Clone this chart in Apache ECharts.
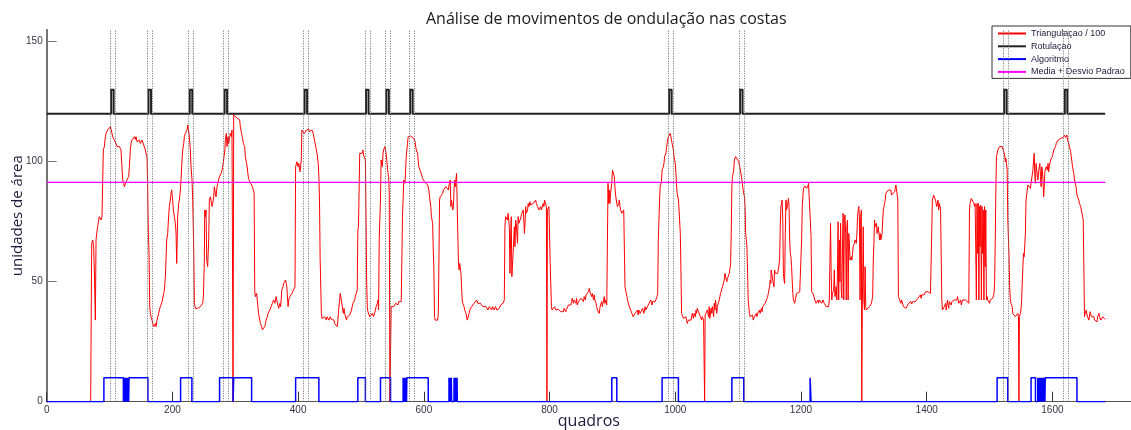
<!DOCTYPE html>
<html>
<head>
<meta charset="utf-8">
<script src="https://cdn.jsdelivr.net/npm/echarts@6.0.0/dist/echarts.min.js"></script>
<style>html,body{margin:0;padding:0;background:#fff}#chart{width:1131px;height:430px}</style>
</head>
<body>
<div id="chart"></div>
<script>
// ---- data ----
const title = 'Análise de movimentos de ondulação nas costas';
const xName = 'quadros';
const yName = 'unidades de área';
const seriesNames = ['Triangulaçao / 100', 'Rotulaçao', 'Algoritmo', 'Media + Desvio Padrao'];
const xTicks = [0, 200, 400, 600, 800, 1000, 1200, 1400, 1600];
const yTicks = [0, 50, 100, 150];
const lastFrame = 1684;

// Triangulação / 100  [quadro, valor]
const triangulacao = [
[0,0],[70,0],[70.5,23],[71.6,66],[73.2,67.4],[74.7,64.6],[75.8,54.9],[77.4,34],[78.5,67.4],[79.5,70.1],[81.1,72.9],[82.7,75.7],[83.8,77.1],[85.4,77.8],[86.4,75.7],[88,77.1],[89.1,92.4],[90.1,104.9],[91.7,106.3],[93.3,110.4],[94.4,111.8],[96,112.5],[97,113.2],[98.6,113.9],[99.7,113.2],[101.3,114.6],[102.3,113.9],[103.9,111.8],[105,110.4],[106.6,111.1],[107.6,109],[109.2,108.3],[110.3,107.6],[111.9,106.3],[113,106.9],[114.5,105.6],[115.6,106.3],[117.2,105.6],[118.2,104.9],[119.8,104.9],[120.9,92.4],[122.5,91],[123.5,89.6],[125.1,88.9],[126.2,91.7],[127.8,92.4],[128.9,91.7],[130.4,93.8],[131.5,97.9],[133.1,104.9],[134.2,107.6],[135.7,109],[136.8,109.7],[138.4,108.3],[139.5,110.4],[141,109.3],[142.1,110.4],[143.7,108.3],[144.8,109],[146.3,108.3],[147.4,109],[149,107.6],[150.1,108.3],[151.7,109],[152.7,108.3],[154.3,107],[155.4,106.3],[157,104.9],[158,103.5],[159.6,102.1],[160.7,88.2],[161.7,70.1],[162.8,61.8],[163.9,39.6],[164.9,36.8],[166,35.4],[167.6,34],[168.6,32.6],[170.2,31.3],[171.3,30.6],[172.9,32.6],[173.9,31.3],[175.5,34],[176.6,34.7],[178.2,36.8],[179.2,38.2],[180.8,39.6],[181.9,40.3],[183.5,41.7],[184.5,41],[186.1,45.1],[187.2,46.5],[188.8,52.1],[189.8,59],[190.9,67.4],[192.5,70.1],[193.6,75.7],[195.1,81.3],[196.7,84],[197.8,86.8],[198.9,88.2],[200.4,84],[201.5,79.9],[203.1,77.1],[204.7,74.3],[205.8,70.1],[206.8,57.6],[208.4,77.1],[210,82.6],[211,84],[212.7,88.2],[213.7,92.4],[215.3,100.7],[216.4,104.9],[218,107.6],[219,110.4],[220.6,111.8],[221.7,112.5],[223.3,113.2],[224.3,115.3],[225.9,112.5],[227,110.4],[228.6,104.9],[229.6,97.9],[231.2,92.4],[232.3,84],[233.9,63.2],[235,41],[236.5,38.9],[237.6,38.2],[239.2,39.6],[240.2,38.9],[241.8,38.2],[242.9,39.6],[244.5,39.6],[245.6,40.3],[247.1,39.9],[248.2,41],[249.3,43.8],[250.8,59],[251.4,79.9],[252.4,77.1],[253.5,79.9],[254.6,59],[256.1,56.3],[257.7,67.4],[258.8,84],[260.4,85.4],[261.4,84],[263,81.3],[264.1,82.6],[265.7,85.4],[266.7,89.6],[268.3,86.8],[269.4,85.4],[271,89.6],[272,91],[273.6,92.4],[274.7,93.8],[276.3,94.5],[277.4,95.1],[279,96.5],[280,97.9],[281.6,97.2],[282.7,97.9],
[283.5,104.9],[284.2,109],[285.8,111.8],[286.9,106.3],[288.4,110.4],[289.5,107.6],[291.1,110.4],[292.2,111.8],[293.8,110.4],[294.8,113.2],[296,113],[296.5,0],[297.5,119.5],[300,118.8],[303,118.1],[305,118.1],[307,117.4],[308,114.6],[310,111.8],[311,110.4],[312,109],[313,107.6],[315,106.3],[316,102.1],[318,99.3],[319,97.9],[320,95.1],[321,93.1],[323,91.7],[324,91],[326,90.3],[327,89.6],[328,88.9],[329,88.2],[330,86.8],[331,45.8],[332,43.8],[334,45.1],[335,42.4],[336,39.6],[337,36.8],[339,34],[340,32.6],[342,31.3],[343,29.9],[344,29.9],[345,30.6],[347,31.3],[348,32.6],[349,34],[351,35.4],[352,36.8],[353,36.8],[355,38.2],[356,38.9],[357,39.6],[359,41],[360,41.7],[361,42.4],[363,41],[364,42.4],[365,43.8],[366,42.4],[368,41.7],[369,38.9],[371,41],[372,39.6],[373,42.4],[374,46.5],[376,47.9],[377,49.3],[379,50],[380,50.7],[381,51.4],[382,47.9],[384,39.6],[385,42.4],[387,43.8],[388,44.5],[389,43.8],[390,45.1],[392,45.1],[393,45.8],[395,47.9],[396,97.9],[398,100],[400,97.9],[401,99.3],[403,95.8],[405,100.7],[406,113.2],[408,113.2],[410,111.8],[411,112.5],[413,113.2],[414,112.9],[416,113.2],[417,113.5],[418,112.5],[420,112.9],[421,112.5],[422,113.2],[424,111.8],[426,109],[427,107.6],[429,104.9],[430,103.5],[432,99.3],[433,93.8],[434,84],[435,59.7],[437,36.8],[438,34.7],[440,35.4],[441,34],[442,35.4],[443,34.7],[445,34],[446,35.4],[448,34.7],[449,34],[450,33.3],[451,35.4],[453,34.3],[454,34],[455,34.7],[457,34],[458,32.6],[459,32.6],[461,32],[462,31.3],[463,33.3],[464,36.8],[466,42.4],[467,45.1],[469,45.8],[470,45.1],[472,36.8],[473,38.9],[474,36.8],[475,36.8],[477,34],[478,35.4],[479,35],[480,34.7],[482,36.1],[483,36.8],[485,38.2],[486,38.9],[487,41],[488,40.3],[490,42.4],[491,43.8],[493,43.8],[494,46.5],[495,71.5],[496,72.9],[498,103.5],[499,102.8],[501,104.2],[502,103.5],[503,104.9],[504,102.8],[506,103.5],[507,100.7],[508,77.1],[509,50.7],[510,39.6],[511,37.5],[512,36.8],[514,35.4],[515,36.1],[517,35.4],[518,36.8],[519,36.8],[520,35.4],[521,36.1],[523,38.2],[524,39.6],[526,41],[527,42.4],[528,38.2],[529,67.4],[531,84],[532,100.7],[534,97.9],[535,103.5],[536,104.9],[538,106.3],[539,104.9],[540,103.5],[541,100.7],[543,95.1],[544,93.8],[545,86.8],[546,0],[547,0],[548,39.6],[549,40.3],[551,38.9],[552,39.6],[554,40.3],[555,41],[556,40.7],[557,41],[559,40.3],[560,41.7],[562,41],[564,41.7],
[565,59],[566,77.1],[567,84],[568,92.4],[570,91],[571,96.5],[572,102.1],[574,107.6],[575,110.4],[577,111.1],[578,111.1],[579,110.7],[580,111.1],[582,110.4],[583,110.4],[584,109.7],[586,108.3],[587,106.3],[588,104.9],[590,103.5],[591,100.7],[592,97.9],[594,97.2],[595,95.8],[596,95.1],[598,93],[599,92.4],[600,92.4],[601,91.7],[603,91.7],[604,91],[606,90.3],[607,89.6],[608,88.2],[609,85.4],[611,81.3],[612,77.1],[614,74.3],[615,63.2],[616,54.9],[617,35.4],[618,34],[619,33.3],[620,34.7],[622,34],[623,36.8],[624,59],[625,84],[626,85.4],[628,86.1],[630,86.8],[631,88.2],[632,88.9],[633,88.9],[635,89.6],[636,89.6],[638,90.3],[639,88.2],[640,90.3],[641,91],[642,92.4],[643,81.3],[644,84],[646,79.9],[647,81.3],[648,88.2],[649,92.4],[650,89.6],[652,95.1],[653,95.8],[654,70.1],[655,59],[656,54.9],[657,57.6],[659,53.5],[660,47.9],[661,42.4],[662,41],[664,39.6],[665,38.2],[667,36.8],[668,36.1],[669,34],[670,34.7],[672,36.8],[673,38.2],[675,38.9],[676,39.6],[677,38.9],[678,40.3],[680,41],[681,40.3],[683,41],[684,42.4],[685,41.7],[686,41],[688,41.7],[689,40.3],[690,41],[692,40.3],[693,41],[694,39.6],[696,40.3],[697,38.9],[699,39.6],[700,40.3],[701,38.9],[702,38.2],[704,39.6],[705,39.6],[706,38.9],[708,38.2],[709,39.6],[710,38.9],[712,38.2],[713,37.5],[714,39.6],[716,38.2],[717,38.9],[718,37.5],[720,38.9],[721,38.2],[722,40.3],[723,41],[725,39.6],[726,41],[728,42.4],[729,72.9],[730,77.1],[731,77.8],[733,75.7],[734,78.5],[736,72.9],[737,53.5],[738,67.4],[739,77.1],[740,52.1],[742,61.8],[744,72.9],[745,64.6],[746,75.7],[747,74.3],[749,66],[750,77.1],[751,74.3],[753,75.7],[754,75],[755,75.7],[756,78.5],[758,79.9],[759,75.7],[760,70.1],[761,74.3],[762,81.3],[763,78.5],[765,79.9],[766,82.6],[767,81.3],[769,83.3],[770,81.9],[771,82.6],[773,81.3],[774,82.6],[775,81.9],[777,82.6],[778,84],[779,82.6],[781,81.3],[782,81.3],[783,79.9],[784,80.6],[786,81.3],[787,79.9],[789,80.6],[790,82.6],[791,81.3],[792,84],[794,84],[795,81.3],[795.8,0],[796.6,79.9],[799,81.3],[801,57.6],[803,39.6],[804,38.2],[806,38.9],[807,38.2],[808,39.6],[810,38.2],[811,38.9],[813,37.5],[814,38.5],[815,37.9],[816,38.9],[818,37.5],[819,36.8],[821,38.2],[822,37.5],[823,38.9],[825,38.2],[826,37.5],[827,38.5],[828,38.9],[830,40.3],[831,39.6],[832,41],[834,40.3],[835,41.7],[836,43.1],[838,41],[839,42.4],
[842,41],[843,43.1],[844,40.3],[846,41.7],[847,42.4],[849,41],[850,43.1],[851,42.4],[852,43.8],[854,41.7],[855,43.8],[857,42.4],[858,44.5],[859,43.8],[860,45.1],[862,45.8],[863,47.2],[865,45.1],[866,45.8],[867,43.8],[868,45.1],[870,42.4],[871,44.5],[872,42.4],[874,41],[875,39.6],[876,38.2],[878,37.5],[879,36.8],[880,38.9],[881,40.3],[883,41.7],[884,39.6],[886,42.4],[887,43.8],[888,41],[889,42.4],[891,40.3],[892,66],[893,91],[894,82.6],[895,88.2],[896,82.6],[897,86.8],[899,91],[900,96.5],[902,95.8],[903,93.8],[904,89.6],[905,86.1],[907,82.6],[908,81.3],[910,82.6],[911,84],[912,81.3],[913,79.9],[915,78.5],[916,79.2],[918,79.9],[919,80.6],[920,47.9],[921,46.5],[923,43.8],[924,42.4],[926,40.3],[927,39.6],[928,41],[929,38.2],[931,36.8],[932,37.5],[933,35.4],[935,36.1],[936,36.8],[937,37.5],[939,36.8],[940,38.2],[941,36.1],[942,38.2],[944,36.8],[945,37.5],[947,36.8],[948,38.9],[949,38.2],[950,36.8],[952,39.6],[953,38.2],[955,38.9],[956,38.2],[957,40.3],[958,41],[960,39.6],[961,42.4],[963,40.3],[964,41.7],[965,41],[966,42.4],[968,41.7],[969,41.7],[971,43.8],[972,45.1],[973,67.4],[975,84],[976,89.6],[978,91.7],[979,96.5],[981,97.9],[982,99.3],[983,102.1],[985,103.5],[986,105.6],[987,107.6],[989,110.4],[990,111.1],[992,111.8],[993,111.8],[994,109],[995,107.6],[997,104.9],[998,102.1],[1000,99.3],[1001,95.1],[1002,90.3],[1003,86.8],[1005,84],[1006,79.9],[1008,70.1],[1009,54.9],[1010,36.8],[1011,36.1],[1013,34.7],[1014,35.4],[1016,34],[1017,35.4],[1018,34],[1019,32.6],[1021,34],[1022,34.7],[1024,33.3],[1025,34],[1026,35.4],[1027,36.8],[1029,34.7],[1030,36.8],[1032,35.4],[1033,38.2],[1034,36.8],[1035,38.9],[1037,37.5],[1038,36.8],[1040,35.4],[1041,36.1],[1042,34],[1043,35.4],[1045,34],[1046,33.3],[1046.7,0],[1047.5,36.1],[1050,36.8],[1051,38.2],[1053,35.4],[1054,39.6],[1055,34.7],[1057,38.9],[1058,36.8],[1059,39.6],[1061,35.4],[1062,41],[1063,38.2],[1064,42.4],[1066,36.8],[1067,39.6],[1069,38.9],[1070,42.4],[1071,43.8],[1072,45.1],[1074,45.8],[1075,47.9],[1077,47.2],[1078,50.7],[1079,53.5],[1080,52.1],[1082,50],[1083,51.4],[1085,50.7],[1086,53.5],[1087,54.2],[1088,57.6],[1089,70.1],[1090,89.6],[1091,93.8],[1093,96.5],[1094,100.7],[1095,101.4],[1096,102.1],[1098,102.8],[1099,102.1],[1101,100],[1102,98.6],[1103,97.9],[1104,95.8],[1106,92.4],[1107,90.3],[1108,88.2],[1110,85.4],[1111,81.3],[1112,70.1],[1114,64.6],[1115,53.5],[1116,42.4],[1118,36.8],[1119,35.4],
[1122,34.7],[1123,36.1],[1124,34],[1126,35.4],[1127,34.7],[1129,36.8],[1130,35.4],[1131,36.8],[1132,36.1],[1134,38.2],[1135,36.8],[1137,38.9],[1138,37.5],[1139,39.6],[1140,38.9],[1142,40.3],[1143,41],[1145,42.4],[1146,41.7],[1147,43.8],[1148,45.1],[1150,47.9],[1151,50.7],[1152,49.3],[1152.5,54.9],[1153.5,53.5],[1155,50.7],[1156,51.4],[1157,47.9],[1158,54.9],[1159,53.5],[1160,53.5],[1161,54.2],[1163,53.5],[1164,53.5],[1166,59],[1167,72.9],[1168,81.3],[1169,82.6],[1170,84],[1171,75.7],[1172,53.5],[1173,50.7],[1174,49.3],[1175,70.1],[1176,84],[1177,79.9],[1179,82.6],[1180,84.7],[1181,81.3],[1182,67.4],[1183,61.8],[1184,60.4],[1185,56.3],[1186,50.7],[1187,45.1],[1188,42.4],[1190,41],[1191,42.4],[1192,41.7],[1193,45.1],[1195,45.4],[1196,44.9],[1198,45.8],[1199,45.1],[1200,45.8],[1201,67.4],[1202,81.3],[1203,85.4],[1204,88.9],[1206,89.9],[1207,89.6],[1208,90.3],[1209,88.9],[1211,89.9],[1212,91],[1213,91.7],[1215,90.3],[1216,68.8],[1217,45.8],[1219,45.1],[1220,44.5],[1221,43.8],[1222,42.4],[1224,41],[1225,41.7],[1227,42.4],[1228,41],[1229,42.4],[1230,41.7],[1232,43.1],[1233,41],[1235,42.4],[1236,41.7],[1237,41],[1238,40.3],[1240,39.6],[1241,40.3],[1243,38.9],[1244,39.6],[1245,42.4],[1246,57.6],[1247,74.3],[1248,53.5],[1249,42.4],[1250,45.1],[1252,46.5],[1253,54.9],[1254,43.8],[1256,47.9],[1257,42.4],[1258,53.5],[1259,75],[1260,42.4],[1261,67.4],[1262,50],[1263,74.3],[1264,46.5],[1265,43.1],[1266,64.6],[1267,78.5],[1268,42.4],[1269,75.7],[1270,77.8],[1271,70.1],[1272,42.4],[1273,72.9],[1274,75.7],[1275,42.4],[1276,70.1],[1277,66],[1278,59],[1280,60.4],[1281,59],[1282,61.8],[1283,64.6],[1285,66],[1286,67.4],[1288,66],[1289,70.1],[1290,77.1],[1291,79.9],[1292,81.3],[1293,75.7],[1294,42.4],[1295,77.1],[1296,79.9],[1296.7,0],[1297.5,38.2],[1299,72.9],[1300,42.4],[1301,38.2],[1302,56.3],[1303,39.6],[1304,38.2],[1305,38.9],[1306,37.5],[1307,38.2],[1309,39.6],[1310,40.3],[1312,41],[1313,41.7],[1314,43.8],[1315,59],[1316,66],[1317,75.7],[1318,72.9],[1320,74.3],[1321,70.1],[1322,71.5],[1323,72.9],[1325,67.4],[1326,70.1],[1327,67.4],[1329,70.1],[1330,75.7],[1331,79.9],[1333,82.6],[1334,84],[1335,86.8],[1336,87.5],[1338,86.1],[1339,88.2],[1341,88.9],[1342,87.5],[1343,88.2],[1344,86.1],[1346,86.8],[1347,85.4],[1349,87.5],[1350,88.2],[1351,90.3],[1352,91],[1353,89.6],[1354,84],[1355,43.8],[1357,42.4],[1358,41.7],[1359,41],[1360,42.4],[1362,41.7],[1363,39.6],[1365,38.9],[1366,40.3],[1367,38.9],[1368,39.6],[1370,39.6],[1371,41],[1372,40.3],[1374,41],[1375,41.7],[1376,40.7],[1378,41.7],[1379,42.4],[1380,41],[1382,41.7],[1383,42.4],[1384,41],[1386,43.1],[1387,42.4],[1388,43.8],[1390,44.5],[1391,43.1],[1392,44.5],[1394,43.8],[1395,45.1],[1396,44.5],[1398,45.8],[1399,45.1],
[1402,45.8],[1403,45.1],[1404,46.5],[1406,45.1],[1407,45.8],[1408,44.5],[1409,84],[1411,86.1],[1412,85.4],[1414,84],[1415,82.6],[1416,81.3],[1418,84],[1419,79.9],[1420,82.6],[1422,80.6],[1423,79.9],[1424,42.4],[1425,38.2],[1427,38.9],[1428,39.6],[1430,41],[1431,38.2],[1432,40.3],[1433,42.4],[1435,38.9],[1436,41.7],[1438,41],[1439,40.3],[1440,41.7],[1441,42.4],[1443,41],[1444,42.4],[1446,43.1],[1447,41.7],[1448,42.4],[1449,43.8],[1451,41],[1452,41.7],[1454,42.4],[1455,40.3],[1456,41],[1457,42.4],[1459,41.7],[1460,41.7],[1462,42.4],[1463,43.1],[1464,41.7],[1465,42.4],[1467,41],[1468,79.9],[1469,82.6],[1471,84.7],[1472,85.4],[1473,84],[1475,82.6],[1476,81.3],[1477,82.6],[1478,63.2],[1479,42.4],[1480,82.6],[1481,61.8],[1482,82.6],[1483,42.4],[1484,81.3],[1485,64.6],[1486,81.9],[1487,42.4],[1488,81.3],[1489,61.8],[1490,79.9],[1491,42.4],[1492,81.3],[1493,56.3],[1494,79.9],[1495,42.4],[1496,43.8],[1497,42.4],[1499,41.7],[1500,41],[1501,42.4],[1502,41.7],[1504,42.4],[1505,43.1],[1506,43.8],[1507,45.1],[1508,49.3],[1509,66],[1510,88.2],[1511,102.1],[1512,103.5],[1513,104.9],[1515,105.6],[1516,106.3],[1517,106.3],[1518,107],[1520,106.3],[1521,106.3],[1523,105.6],[1524,102.8],[1525,100],[1526,101.4],[1527,99.3],[1528,96.5],[1529,75.7],[1531,60.4],[1532,47.9],[1533,42.4],[1534,41],[1536,39.6],[1537,36.8],[1539,36.8],[1540,36.1],[1541,35.4],[1542,35.4],[1544,35.7],[1545,36.8],[1546,35.4],[1546.7,0],[1547.5,35.4],[1549,36.8],[1550,38.2],[1551,42.4],[1553,56.3],[1554,61.8],[1555,60.4],[1557,70.1],[1558,84],[1560,88.2],[1561,90.3],[1562,89.6],[1563,91],[1565,88.9],[1566,91],[1568,91.7],[1569,96.5],[1570,100.7],[1571,103.5],[1572,93.8],[1573,91],[1574,99.3],[1575,96.5],[1577,92.4],[1578,95.8],[1579,97.9],[1580,99.3],[1581,93.8],[1582,89.6],[1583,97.9],[1584,96.5],[1585,92.4],[1586,85.4],[1587,89.6],[1588,95.8],[1589,95.1],[1590,97.9],[1592,96.5],[1593,99.3],[1594,95.8],[1595,97.9],[1597,100.7],[1598,101.4],[1600,102.1],[1601,103.5],[1602,104.9],[1603,105.6],[1605,106.3],[1606,107.6],[1607,108.3],[1609,109],[1610,109.7],[1611,109.3],[1613,109.7],[1614,110.4],[1615,109.3],[1617,110.1],[1618,110.7],[1619,111.1],[1621,110.1],[1622,110.7],[1623,111.1],[1624,109],[1626,107.6],[1627,106.3],[1629,104.2],[1630,102.1],[1631,100],[1632,97.9],[1634,95.1],[1635,92.4],[1637,90.3],[1638,88.9],[1639,86.1],[1640,85.4],[1642,84],[1643,82.6],[1645,81.3],[1646,79.9],[1647,78.5],[1648,77.8],[1649,75.7],[1651,35.4],[1652,36.8],[1654,38.2],[1655,36.1],[1656,36.8],[1658,34],[1659,34.7],[1660,37.5],[1662,35.4],[1663,36.1],[1664,34.7],[1666,35.4],[1667,34],[1668,33.3],[1670,34.7],[1671,33.3],[1672,35.4],[1674,36.8],[1675,35.4],[1676,34.7],[1677,34],[1679,34.7],[1680,35.4],[1682,34.7],[1684,34.3]
];

// Rotulação: baseline / pulse level and labelled intervals [start, end]
const rotulacaoBase = 120;
const rotulacaoPico = 130;
const rotulacaoInicio = [102.5, 162, 227.6, 283, 410.3, 508, 540.3, 578.2, 990.2, 1103, 1523.2, 1619.7];
const rotulacaoFim    = [106.5, 166, 231.6, 287, 414.3, 512, 544.3, 582.2, 994.2, 1107, 1527.2, 1623.7];
// dotted guide lines around each label (quadros)
const marcasInicio = [100.5, 160, 225.6, 281, 408.3, 506, 538.3, 576.2, 988.2, 1101, 1521.2, 1617.7];
const marcasFim    = [108.5, 168, 233.6, 289, 416.3, 514, 546.3, 584.2, 996.2, 1109, 1529.2, 1625.7];

// Algoritmo: detected intervals [start, end] at level 10
const algoritmoNivel = 10;
const algoritmo = [
[91,122],[122.6,123.2],[123.8,124.4],[125,125.6],[126.2,126.8],[127.4,128],[128.6,129.2],[129.8,130.4],[131,161],
[213,231],[275,296.5],[297.5,326],[396,433],[495,507],[531,547],
[567,567.6],[568.2,568.8],[569.4,570],[570.6,571.2],[571.8,572.4],[573,607],
[640,640.6],[641.2,641.8],[642.4,643],[643.6,644.2],[648,648.6],[649.2,649.8],[650.4,651],[651.6,652.2],[652.8,653.2],
[899,907],[979,1005],[1090,1109],[1214.5,1216],[1512,1529],[1566,1573],
[1576.6,1577.2],[1577.8,1578.4],[1579,1579.6],[1580.2,1580.8],[1581.4,1582],[1582.6,1583.2],[1583.8,1584.4],[1585,1585.6],[1586.2,1586.8],[1587.4,1588],[1588.6,1639]
];

// Média + desvio padrão
const mediaDesvio = 91.4;

// ---- build series data ----
const rotData = [[0, rotulacaoBase]];
rotulacaoInicio.forEach((s, i) => {
  const e = rotulacaoFim[i];
  rotData.push([s, rotulacaoBase], [s, rotulacaoPico], [e, rotulacaoPico], [e, rotulacaoBase]);
});
rotData.push([lastFrame, rotulacaoBase]);

const algData = [[0, 0]];
algoritmo.forEach(([s, e]) => {
  algData.push([s, 0], [s, algoritmoNivel], [e, algoritmoNivel], [e, 0]);
});
algData.push([lastFrame, 0]);

const mediaData = [[0, mediaDesvio], [lastFrame, mediaDesvio]];

const marcas = marcasInicio.concat(marcasFim).map(v => ({ xAxis: v }));

const chart = echarts.init(document.getElementById('chart'), null, { renderer: 'canvas' });
const labelFont = '"Liberation Sans", Arial, sans-serif';
const nameFont = '"Open Sans", "Noto Sans", sans-serif';
const plain = v => String(v);

chart.setOption({
  animation: false,
  backgroundColor: '#ffffff',
  title: {
    text: title,
    left: 426,
    top: 11,
    padding: 0,
    textStyle: { fontFamily: nameFont, fontSize: 16, fontWeight: 'normal', color: '#1a1a1a' }
  },
  legend: {
    data: seriesNames,
    orient: 'vertical',
    left: 992,
    top: 26,
    padding: [3, 6, 2, 5],
    itemWidth: 28,
    itemHeight: 10,
    itemGap: 3.8,
    backgroundColor: '#ffffff',
    borderColor: '#333333',
    borderWidth: 1,
    borderRadius: 0,
    itemStyle: { opacity: 0, color: 'transparent', borderWidth: 0 },
    textStyle: { fontFamily: labelFont, fontSize: 9, color: '#1a1a3a' }
  },
  grid: { left: 46.7, right: 0, top: 29.7, bottom: 28.3, containLabel: false, outerBoundsMode: 'none' },
  xAxis: {
    type: 'value',
    min: 0,
    max: 1725,
    name: xName,
    nameLocation: 'middle',
    nameGap: 12,
    nameMoveOverlap: false,
    nameTextStyle: { fontFamily: nameFont, fontSize: 16, color: '#1a1a3a' },
    axisLine: { show: true, onZero: false, lineStyle: { color: '#555555', width: 1 } },
    axisTick: { show: true, inside: true, length: 10, customValues: xTicks, lineStyle: { color: '#333333' } },
    axisLabel: { customValues: xTicks, formatter: plain, margin: 4, fontFamily: labelFont, fontSize: 10, color: '#333344' },
    splitLine: { show: false }
  },
  yAxis: {
    type: 'value',
    min: 0,
    max: 155,
    name: yName,
    nameLocation: 'middle',
    nameGap: 21,
    nameMoveOverlap: false,
    nameRotate: 90,
    nameTextStyle: { fontFamily: nameFont, fontSize: 15, color: '#1a1a3a' },
    axisLine: { show: true, lineStyle: { color: '#444444', width: 1.5 } },
    axisTick: { show: true, inside: true, length: 10, customValues: yTicks, lineStyle: { color: '#777777' } },
    axisLabel: { customValues: yTicks, formatter: plain, margin: 4, fontFamily: labelFont, fontSize: 10, color: '#333344' },
    splitLine: { show: false }
  },
  series: [
    {
      name: seriesNames[0], type: 'line', data: triangulacao, symbol: 'none',
      lineStyle: { color: '#ff0000', width: 1 }, itemStyle: { color: '#ff0000' }, z: 2
    },
    {
      name: seriesNames[1], type: 'line', data: rotData, symbol: 'none',
      lineStyle: { color: '#222222', width: 2, join: 'round' }, itemStyle: { color: '#222222' }, z: 3,
      markLine: {
        silent: true, symbol: ['none', 'none'], label: { show: false },
        lineStyle: { color: '#666666', width: 1, type: [1, 1.5] },
        emphasis: { disabled: true },
        data: marcas
      }
    },
    {
      name: seriesNames[2], type: 'line', data: algData, symbol: 'none',
      lineStyle: { color: '#0000ff', width: 1.5 }, itemStyle: { color: '#0000ff' }, z: 4
    },
    {
      name: seriesNames[3], type: 'line', data: mediaData, symbol: 'none',
      lineStyle: { color: '#ff00ff', width: 1.2 }, itemStyle: { color: '#ff00ff' }, z: 5
    }
  ]
});
</script>
</body>
</html>
